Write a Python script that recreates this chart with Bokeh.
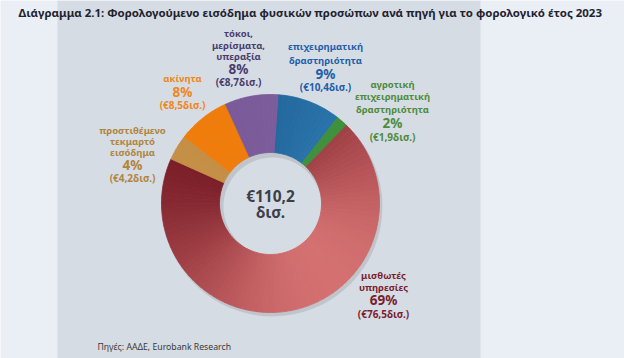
import numpy as np
from bokeh.plotting import figure
from bokeh.models import Range1d
from bokeh.core.properties import value
from bokeh.embed import file_html
from bokeh.resources import INLINE

# ---------------- data ----------------
title = "Διάγραμμα 2.1: Φορολογούμενο εισόδημα φυσικών προσώπων ανά πηγή για το φορολογικό έτος 2023"
source_note = "Πηγές: ΑΑΔΕ, Eurobank Research"
categories = ["επιχειρηματική δραστηριότητα",
              "αγροτική επιχειρηματική δραστηριότητα",
              "μισθωτές υπηρεσίες",
              "προστιθέμενο τεκμαρτό εισόδημα",
              "ακίνητα",
              "τόκοι, μερίσματα, υπεραξία"]
values = [10.4, 1.9, 76.5, 4.2, 8.5, 8.7]
pct_labels = ["9%", "2%", "69%", "4%", "8%", "8%"]
value_labels = ["(€10,4δισ.)", "(€1,9δισ.)", "(€76,5δισ.)", "(€4,2δισ.)", "(€8,5δισ.)", "(€8,7δισ.)"]
name_lines = [["επιχειρηματική", "δραστηριότητα"],
              ["αγροτική", "επιχειρηματική", "δραστηριότητα"],
              ["μισθωτές", "υπηρεσίες"],
              ["προστιθέμενο", "τεκμαρτό", "εισόδημα"],
              ["ακίνητα"],
              ["τόκοι,", "μερίσματα,", "υπεραξία"]]
total_lines = ["€110,2", "δισ."]

# ---------------- styles / layout ----------------
slice_dark = ["#1F6398", "#3A8A3A", "#761A24", "#C48E45", "#F07C0C", "#7A5A98"]
slice_light = ["#3A8CC6", "#45983F", "#D47070", "#D6A258", "#FA8A18", "#8C6AAA"]
text_colors = ["#1F5EAA", "#4E8B3C", "#7B1F30", "#B08540", "#F0861C", "#4A3C6E"]
# label anchors (page pixel coords): x centre, y of each line
label_x = [325, 392, 383, 132, 182, 238]
label_ys = [[46, 60, 73, 86],
            [84, 96, 109, 122, 136],
            [275, 287, 299, 313],
            [130, 141, 152, 164, 177],
            [78, 91, 104],
            [33, 45, 56, 68, 81]]

BG = "#EAEEF5"
PANEL = "#D6DCE3"
FONT = value("Noto Sans")
CX, CY = 270, 203
R_OUT, R_IN = 109, 51
START_DEG = 4

W, H = 624, 358
Y = lambda ry: H - ry

p = figure(width=W, height=H, x_range=Range1d(0, W), y_range=Range1d(0, H),
           output_backend="svg", toolbar_location=None, min_border=0,
           x_axis_location=None, y_axis_location=None)
p.grid.visible = False
p.outline_line_color = None
p.background_fill_color = BG
p.border_fill_color = BG

# panel
p.quad(left=57, right=480, bottom=0, top=H, fill_color=PANEL, line_color=None)

# donut
vals = np.array(values, dtype=float)
total = vals.sum()
cum = np.concatenate([[0], np.cumsum(vals)])
deg0 = START_DEG + 360 * cum[:-1] / total
deg1 = START_DEG + 360 * cum[1:] / total

# soft shadow
p.annular_wedge(x=CX + 2, y=Y(CY) - 3, inner_radius=R_IN - 2, outer_radius=R_OUT + 1,
                start_angle=0, end_angle=2 * np.pi, fill_color="#000000", fill_alpha=0.10,
                line_color=None)


def mix(c1, c2, t):
    a = np.array([int(c1[i:i + 2], 16) for i in (1, 3, 5)], dtype=float)
    b = np.array([int(c2[i:i + 2], 16) for i in (1, 3, 5)], dtype=float)
    c = a + (b - a) * t
    return "#%02x%02x%02x" % tuple(int(round(v)) for v in c)


xs, ys, sa, ea, cols = [], [], [], [], []
for i in range(len(vals)):
    n = max(2, int(np.ceil((deg1[i] - deg0[i]) / 3)))
    edges = np.linspace(deg0[i], deg1[i], n + 1)
    for k in range(n):
        mid = 0.5 * (edges[k] + edges[k + 1])
        t = 0.5 * (1 + np.cos(np.radians(mid - 140)))
        cols.append(mix(slice_dark[i], slice_light[i], t))
        sa.append(np.pi / 2 - np.radians(edges[k]))
        ea.append(np.pi / 2 - np.radians(edges[k + 1]))
        xs.append(CX)
        ys.append(Y(CY))

p.annular_wedge(x=xs, y=ys, inner_radius=R_IN, outer_radius=R_OUT,
                start_angle=sa, end_angle=ea, direction="clock",
                fill_color=cols, line_color=cols, line_width=0.8)

# labels
for i in range(len(vals)):
    lines = name_lines[i] + [pct_labels[i], value_labels[i]]
    nn = len(name_lines[i])
    for j, (txt, ry) in enumerate(zip(lines, label_ys[i])):
        if j < nn:
            size = "9.5px"
        elif j == nn:
            size = "13.5px"
        else:
            size = "10px"
        p.text(x=[label_x[i]], y=[Y(ry)], text=[txt], text_align="center",
               text_baseline="middle", text_font=FONT, text_font_style="bold",
               text_font_size=size, text_color=text_colors[i])

# centre total
for txt, ry in zip(total_lines, [195, 211]):
    p.text(x=[CX], y=[Y(ry)], text=[txt], text_align="center", text_baseline="middle",
           text_font=FONT, text_font_style="bold", text_font_size="15.5px", text_color="#3C4048")

# title & source
p.text(x=[18], y=[Y(12)], text=[title], text_align="left", text_baseline="middle",
       text_font=FONT, text_font_style="bold", text_font_size="11.45px", text_color="#1E2330")
p.text(x=[97], y=[Y(346)], text=[source_note], text_align="left", text_baseline="middle",
       text_font=FONT, text_font_size="8.7px", text_color="#3A3A3A")

open("out.html", "w").write(file_html(p, INLINE))
